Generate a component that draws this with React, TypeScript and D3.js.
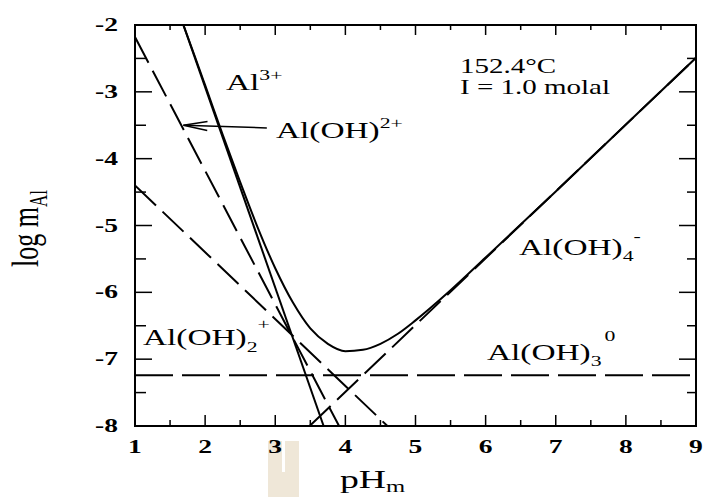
import React from "react";
import * as d3 from "d3";

// species lines, [pH, log m] end points
const al3Line: [number, number][] = [[1.69, -2], [3.69, -8]];
const alOH2Line: [number, number][] = [[1, -2.18], [3.91, -8]];
const alOH2pLine: [number, number][] = [[1, -4.4], [4.6, -8]];
const alOH4Line: [number, number][] = [[3.49, -8], [9, -2.49]];
const alOH3Line: [number, number][] = [[1, -7.24], [9, -7.24]];

// total dissolved Al curve
const totalPH = [1.69, 1.85, 2.0, 2.25, 2.5, 2.75, 3.0, 3.25, 3.5, 3.75, 4.0, 4.25, 4.5, 4.75, 5.0, 5.5, 6, 7, 8, 9];
const totalLog = [-2.0, -2.46, -2.9, -3.64, -4.35, -5.03, -5.64, -6.15, -6.54, -6.77, -6.88, -6.86, -6.77, -6.62, -6.42, -5.97, -5.48, -4.49, -3.49, -2.49];

const xTicks = [1, 2, 3, 4, 5, 6, 7, 8, 9];
const xMinor = [1.5, 2.5, 3.5, 4.5, 5.5, 6.5, 7.5, 8.5];
const yTicks = [-2, -3, -4, -5, -6, -7, -8];
const yMinor = [-2.5, -3.5, -4.5, -5.5, -6.5, -7.5];

// arrow from the Al(OH)2+ label to its line
const arrowFrom: [number, number] = [2.88, -3.54];
const arrowTo: [number, number] = [1.69, -3.5];

const W = 704;
const H = 497;
const left = 135, right = 696, top = 25, bottom = 426;
const SX = 1.45; // the original is stretched sideways
const serif = "'Liberation Serif', 'Times New Roman', serif";

function Stretched(props: { x: number; y: number; anchor?: string; size: number; bold?: boolean; children: any }) {
  return (
    <g transform={`translate(${props.x},${props.y}) scale(${SX},1)`}>
      <text
        textAnchor={props.anchor || "start"}
        fontFamily={serif}
        fontSize={props.size}
        fontWeight={props.bold ? "bold" : "normal"}
        fill="#000"
      >
        {props.children}
      </text>
    </g>
  );
}

export default function App() {
  const x = d3.scaleLinear().domain([1, 9]).range([left, right]);
  const y = d3.scaleLinear().domain([-8, -2]).range([bottom, top]);

  const line = d3
    .line<[number, number]>()
    .x((d) => x(d[0]))
    .y((d) => y(d[1]));

  const curve = d3
    .line<number>()
    .x((d) => x(d))
    .y((d, i) => y(totalLog[i]))
    .curve(d3.curveMonotoneX);

  const ax = x(arrowFrom[0]), ay = y(arrowFrom[1]);
  const tx = x(arrowTo[0]), ty = y(arrowTo[1]);
  const ang = Math.atan2(ay - ty, ax - tx);
  const hl = 24, hw = 4.5;
  const h1x = tx + hl * Math.cos(ang) - hw * Math.sin(ang);
  const h1y = ty + hl * Math.sin(ang) + hw * Math.cos(ang);
  const h2x = tx + hl * Math.cos(ang) + hw * Math.sin(ang);
  const h2y = ty + hl * Math.sin(ang) - hw * Math.cos(ang);

  const sub = 15;
  return (
    <svg width={W} height={H} style={{ position: "absolute", left: 0, top: 0, background: "#fff" }}>
      <defs>
        <clipPath id="plot">
          <rect x={left} y={top} width={right - left} height={bottom - top} />
        </clipPath>
      </defs>

      {/* scan artefact below the axis */}
      <rect x={268} y={441} width={31} height={56} fill="#efe7d8" />
      <rect x={282} y={441} width={3} height={31} fill="#fff" />

      <g clipPath="url(#plot)" fill="none" stroke="#000" strokeWidth={2}>
        <path d={line(al3Line) || ""} />
        <path d={line(alOH2Line) || ""} strokeDasharray="29,9" />
        <path d={line(alOH2pLine) || ""} strokeDasharray="29,9" />
        <path d={line(alOH4Line) || ""} strokeDasharray="29,9" />
        <path d={line(alOH3Line) || ""} strokeDasharray="38,9" />
        <path d={curve(totalPH) || ""} />
      </g>

      {/* arrow */}
      <g stroke="#000" strokeWidth={1.5} fill="none">
        <line x1={ax} y1={ay} x2={tx} y2={ty} />
        <polyline points={`${h1x},${h1y} ${tx},${ty} ${h2x},${h2y}`} />
      </g>

      {/* frame and ticks */}
      <rect x={left} y={top} width={right - left} height={bottom - top} fill="none" stroke="#000" strokeWidth={2} />
      <g stroke="#000" strokeWidth={1.5}>
        {xTicks.map((t) => (
          <g key={"xt" + t}>
            <line x1={x(t)} x2={x(t)} y1={bottom} y2={bottom - 11} />
            <line x1={x(t)} x2={x(t)} y1={top} y2={top + 10} />
          </g>
        ))}
        {xMinor.map((t) => (
          <g key={"xm" + t}>
            <line x1={x(t)} x2={x(t)} y1={bottom} y2={bottom - 6} />
            <line x1={x(t)} x2={x(t)} y1={top} y2={top + 5} />
          </g>
        ))}
        {yTicks.map((t) => (
          <g key={"yt" + t}>
            <line x1={left} x2={left + 17} y1={y(t)} y2={y(t)} />
            <line x1={right} x2={right - 17} y1={y(t)} y2={y(t)} />
          </g>
        ))}
        {yMinor.map((t) => (
          <g key={"ym" + t}>
            <line x1={left} x2={left + 11} y1={y(t)} y2={y(t)} />
            <line x1={right} x2={right - 9} y1={y(t)} y2={y(t)} />
          </g>
        ))}
      </g>

      {xTicks.map((t) => (
        <Stretched key={"xl" + t} x={x(t)} y={453} anchor="middle" size={19} bold>
          {String(t)}
        </Stretched>
      ))}
      {yTicks.map((t) => (
        <Stretched key={"yl" + t} x={118} y={y(t) + 6} anchor="end" size={19} bold>
          {String(t)}
        </Stretched>
      ))}

      {/* axis titles */}
      <Stretched x={340} y={488} size={26}>
        pH<tspan fontSize={17} dy={4}>m</tspan>
      </Stretched>
      <g transform={`translate(38,267) rotate(-90) scale(1,${SX})`}>
        <text fontFamily={serif} fontSize={26} fill="#000">
          log m<tspan fontSize={17} dy={6}>Al</tspan>
        </text>
      </g>

      {/* conditions */}
      <Stretched x={460} y={73} size={20}>152.4°C</Stretched>
      <Stretched x={460} y={94} size={20}>I = 1.0 molal</Stretched>

      {/* species labels */}
      <Stretched x={226} y={90} size={23}>
        Al<tspan fontSize={sub} dy={-10}>3+</tspan>
      </Stretched>
      <Stretched x={276} y={138} size={23}>
        Al(OH)<tspan fontSize={sub} dy={-10}>2+</tspan>
      </Stretched>
      <Stretched x={143} y={345} size={23}>
        Al(OH)<tspan fontSize={sub} dy={7}>2</tspan>
        <tspan fontSize={sub} dy={-23}>+</tspan>
      </Stretched>
      <Stretched x={519} y={255} size={23}>
        Al(OH)<tspan fontSize={sub} dy={6}>4</tspan>
        <tspan fontSize={sub} dy={-20}>-</tspan>
      </Stretched>
      <Stretched x={487} y={360} size={23}>
        Al(OH)<tspan fontSize={sub} dy={6}>3</tspan>
        <tspan fontSize={sub} dx={2} dy={-25}>0</tspan>
      </Stretched>
    </svg>
  );
}
